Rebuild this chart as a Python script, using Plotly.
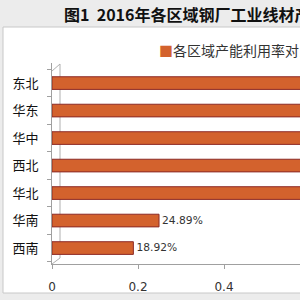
import plotly.graph_objects as go

# data (bottom to top)
regions = ["西南", "华南", "华北", "西北", "华中", "华东", "东北"]
utilization = [0.1892, 0.2489, 0.60, 0.63, 0.66, 0.70, 0.74]
x_ticks = [0, 0.2, 0.4, 0.6, 0.8, 1.0]
x_tick_labels = ["0", "0.2", "0.4", "0.6", "0.8", "1"]
title_text = "图1  2016年各区域钢厂工业线材产能利用率对比"
legend_text = "各区域产能利用率对比"

W, H = 300, 300
L, R, T, B = 52, 0, 63, 36  # plot area: x 52..300, y 63..264
pw, ph = W - L - R, H - T - B
x_max = pw / 430.0

def px(x):
    return (x - L) / pw

def py(y):
    return (H - B - y) / ph

# labels only where the bar end lies inside the visible window
bar_labels = [f"{v:.2%}" if v < x_max * 0.85 else "" for v in utilization]

fig = go.Figure()
fig.add_trace(go.Bar(
    y=regions, x=utilization, orientation="h",
    width=0.46,
    marker=dict(color="#d3622d", line=dict(color="#8c2a26", width=1)),
    text=bar_labels, textposition="outside",
    textfont=dict(size=11, color="#333333", family="DejaVu Sans"),
    cliponaxis=True, showlegend=False,
))

shapes = [
    dict(type="rect", xref="paper", yref="paper", x0=px(3), x1=px(301), y0=py(293), y1=py(27),
         fillcolor="white", line=dict(color="#c8c8c8", width=1), layer="below"),
    dict(type="line", xref="paper", yref="paper", x0=px(60), x1=px(60), y0=py(258), y1=py(64),
         line=dict(color="#b0b0b0", width=1), layer="below"),
    dict(type="line", xref="paper", yref="paper", x0=px(52), x1=px(60), y0=py(71), y1=py(64),
         line=dict(color="#b0b0b0", width=1), layer="below"),
    dict(type="line", xref="paper", yref="paper", x0=px(52), x1=px(60), y0=py(264), y1=py(258),
         line=dict(color="#b0b0b0", width=1), layer="below"),
]

annotations = [
    dict(text="<b>" + title_text + "</b>", xref="paper", yref="paper",
         x=px(62), y=py(14), xanchor="left", yanchor="middle", showarrow=False,
         font=dict(size=16, color="#111111", family="Noto Sans CJK SC")),
    dict(text="<span style='color:#d3622d'>■</span>" + legend_text, xref="paper", yref="paper",
         x=px(157), y=py(50), xanchor="left", yanchor="middle", showarrow=False,
         font=dict(size=14, color="#333333", family="Noto Sans CJK SC")),
]

fig.update_layout(
    width=W, height=H,
    margin=dict(l=L, r=R, t=T, b=B),
    paper_bgcolor="#ececec",
    plot_bgcolor="rgba(0,0,0,0)",
    shapes=shapes, annotations=annotations,
    xaxis=dict(range=[0, x_max], tickvals=x_ticks, ticktext=x_tick_labels,
               showgrid=False, zeroline=False, showline=True, linecolor="#a0a0a0",
               ticks="outside", ticklen=4, tickcolor="#a0a0a0", ticklabelstandoff=8,
               tickfont=dict(size=12, color="#333333", family="DejaVu Sans")),
    yaxis=dict(categoryorder="array", categoryarray=regions, range=[-0.58, 6.73],
               showgrid=False, showline=True, linecolor="#a0a0a0",
               ticks="outside", ticklen=4, tickcolor="#a0a0a0", tickson="boundaries",
               ticklabelstandoff=10,
               tickfont=dict(size=13, color="#111111", family="Noto Sans CJK SC")),
)

fig.write_html("out.html")
